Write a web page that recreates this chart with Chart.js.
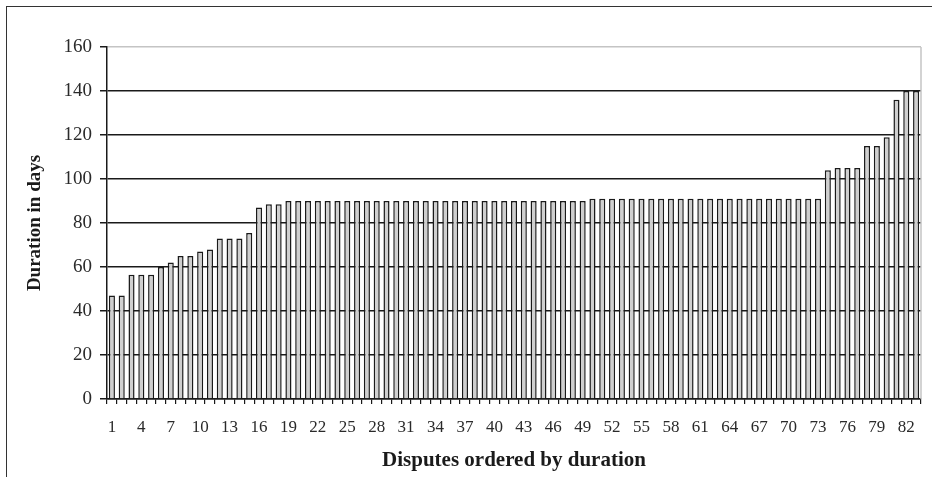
<!DOCTYPE html>
<html>
<head>
<meta charset="utf-8">
<script src="https://cdn.jsdelivr.net/npm/chart.js@4.4.1/dist/chart.umd.min.js"></script>
<style>
  html, body { margin: 0; padding: 0; background: #fff; }
  #wrap { position: relative; width: 932px; height: 477px; }
  #frame { position: absolute; left: 6px; top: 6px; right: 0; bottom: 0;
           border-left: 1.5px solid #333; border-top: 1.5px solid #333; pointer-events: none; }
  canvas { position: absolute; left: 0; top: 0; }
</style>
</head>
<body>
<div id="wrap">
  <canvas id="c" width="932" height="477"></canvas>
  <div id="frame"></div>
</div>
<script>
// Categories: disputes ordered by duration
const categories = [
  "1","2","3","4","5","6","7","8","9","10",
  "11","12","13","14","15","16","17","18","19","20",
  "21","22","23","24","25","26","27","28","29","30",
  "31","32","33","34","35","36","37","38","39","40",
  "41","42","43","44","45","46","47","48","49","50",
  "51","52","53","54","55","56","57","58","59","60",
  "61","62","63","64","65","66","67","68","69","70",
  "71","72","73","74","75","76","77","78","79","80",
  "81","82","83"
];

// Duration in days
const durations = [
  47, 47, 56.5, 56.5, 56.5, 60, 62, 65, 65, 67,
  68, 73, 73, 73, 75.5, 87, 88.5, 88.5, 90, 90,
  90, 90, 90, 90, 90, 90, 90, 90, 90, 90,
  90, 90, 90, 90, 90, 90, 90, 90, 90, 90,
  90, 90, 90, 90, 90, 90, 90, 90, 90, 91,
  91, 91, 91, 91, 91, 91, 91, 91, 91, 91,
  91, 91, 91, 91, 91, 91, 91, 91, 91, 91,
  91, 91, 91, 104, 105, 105, 105, 115, 115, 119,
  136, 140, 140
];

// Y axis ticks
const yTicks = [0, 20, 40, 60, 80, 100, 120, 140, 160];
const yTitle = "Duration in days";
const xTitle = "Disputes ordered by duration";

const serif = "'Liberation Serif', 'DejaVu Serif', serif";

const rightBorder = {
  id: 'rightBorder',
  afterDraw(chart) {
    const a = chart.chartArea, ctx = chart.ctx;
    ctx.save();
    ctx.strokeStyle = '#c4c4c4';
    ctx.lineWidth = 1.5;
    ctx.beginPath();
    ctx.moveTo(a.right, a.top);
    ctx.lineTo(a.right, a.bottom);
    ctx.stroke();
    ctx.restore();
  }
};

new Chart(document.getElementById('c'), {
  type: 'bar',
  data: {
    labels: categories,
    datasets: [{
      data: durations,
      backgroundColor: '#cfcfcf',
      borderColor: '#1a1a1a',
      borderWidth: 1.5,
      barPercentage: 0.62,
      categoryPercentage: 1.0
    }]
  },
  options: {
    responsive: false,
    animation: false,
    devicePixelRatio: 1,
    layout: { padding: { left: 20, right: 11, top: 47, bottom: 0 } },
    plugins: { legend: { display: false }, tooltip: { enabled: false } },
    scales: {
      x: {
        afterFit(s) { s.height = 78; },
        grid: {
          display: true,
          offset: true,
          drawOnChartArea: false,
          drawTicks: true,
          tickLength: 5,
          color: '#1a1a1a',
          lineWidth: 1.2
        },
        border: { display: true, color: '#1a1a1a', width: 1.5 },
        ticks: {
          autoSkip: false,
          maxRotation: 0,
          minRotation: 0,
          padding: 13,
          color: '#2a2a2a',
          font: { family: serif, size: 17 },
          callback(v, i) { return i % 3 === 0 ? categories[i] : ''; }
        },
        title: {
          display: true,
          text: xTitle,
          color: '#1a1a1a',
          font: { family: serif, size: 21, weight: 'bold' },
          padding: { top: 4, bottom: 4 }
        }
      },
      y: {
        z: 1,
        min: 0,
        max: 160,
        afterFit(s) { s.width = 87; },
        afterBuildTicks(s) { s.ticks = yTicks.map(v => ({ value: v })); },
        grid: {
          color: (ctx) => (ctx.tick && ctx.tick.value === 160) ? '#c4c4c4' : '#1a1a1a',
          lineWidth: 1.5,
          drawTicks: true,
          tickLength: 7,
          tickColor: '#1a1a1a'
        },
        border: { display: true, color: '#1a1a1a', width: 1.5 },
        ticks: {
          padding: 8,
          color: '#2a2a2a',
          font: { family: serif, size: 19 }
        },
        title: {
          display: true,
          text: yTitle,
          color: '#1a1a1a',
          font: { family: serif, size: 19, weight: 'bold' },
          padding: { top: 4, bottom: 4 }
        }
      }
    }
  },
  plugins: [rightBorder]
});
</script>
</body>
</html>
